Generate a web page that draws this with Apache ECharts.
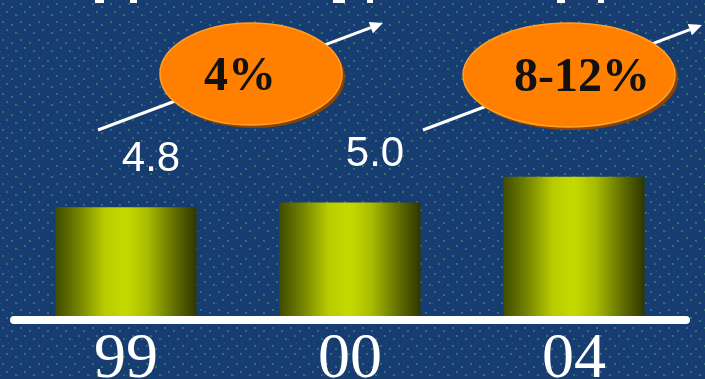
<!DOCTYPE html>
<html><head><meta charset="utf-8">
<script src="https://cdn.jsdelivr.net/npm/echarts@6/dist/echarts.min.js"></script>
<style>html,body{margin:0;padding:0;background:#163a70}#c{width:705px;height:379px}</style>
</head><body><div id="c"></div>
<script>
const categories = ['99', '00', '04'];
const values = [4.8, 5.0, 6.1];
const valueLabels = ['4.8', '5.0', ''];
const growthLabels = ['4%', '8-12%'];

// dotted background texture
const pat = document.createElement('canvas');
pat.width = 18; pat.height = 18;
const pc = pat.getContext('2d');
pc.fillStyle = '#173c71'; pc.fillRect(0, 0, 18, 18);
pc.fillStyle = '#2b7268';
[[2, 3], [11, 6], [6, 11], [15, 14]].forEach(p => pc.fillRect(p[0], p[1], 2, 2));
pc.fillStyle = '#3a4f86';
[[8, 1], [0, 15]].forEach(p => pc.fillRect(p[0], p[1], 1, 1));

function arrow(x1, y1, x2, y2) {
  const dx = x2 - x1, dy = y2 - y1, len = Math.hypot(dx, dy);
  const ux = dx / len, uy = dy / len, nx = -uy, ny = ux;
  const bx = x2 - 13 * ux, by = y2 - 13 * uy;
  return [
    { type: 'line', z: 5, shape: { x1, y1, x2: bx, y2: by }, style: { stroke: '#fff', lineWidth: 3 } },
    { type: 'polygon', z: 5, shape: { points: [[x2, y2], [bx + 6 * nx, by + 6 * ny], [bx - 6 * nx, by - 6 * ny]] }, style: { fill: '#fff' } }
  ];
}

function bubble(cx, cy, rx, ry, text, tx) {
  return [
    { type: 'ellipse', z: 10, shape: { cx: cx + 3, cy: cy + 3, rx, ry }, style: { fill: '#8f4300' } },
    { type: 'ellipse', z: 11, shape: { cx, cy, rx, ry }, style: { fill: '#ff8000', stroke: '#ffa126', lineWidth: 1.5 } },
    { type: 'text', z: 12, style: { text, x: tx, y: cy + 4, align: 'center', verticalAlign: 'middle', font: 'bold 48px "Liberation Serif", serif', fill: '#111' } }
  ];
}

const topMarks = [[95, 9], [130, 7], [333, 12], [367, 6], [557, 8], [598, 6]].map(m => ({
  type: 'rect', z: 5, shape: { x: m[0], y: 0, width: m[1], height: 3 }, style: { fill: '#fff' }
}));

const chart = echarts.init(document.getElementById('c'), null, { renderer: 'canvas' });
chart.setOption({
  animation: false,
  backgroundColor: { image: pat, repeat: 'repeat' },
  grid: { left: 14, right: 19, top: 85, bottom: 59, containLabel: false, outerBoundsMode: 'none' },
  xAxis: {
    type: 'category', data: categories, z: 5,
    axisLine: { lineStyle: { color: '#ffffff', width: 8 } },
    axisTick: { show: false },
    axisLabel: { color: '#ffffff', fontFamily: '"Liberation Serif", serif', fontSize: 64, margin: 8 }
  },
  yAxis: { type: 'value', min: 0, max: 10, show: false },
  series: [{
    type: 'bar',
    data: values,
    barWidth: 141,
    itemStyle: {
      color: {
        type: 'linear', x: 0, y: 0, x2: 1, y2: 0,
        colorStops: [
          { offset: 0, color: '#3f4c00' },
          { offset: 0.15, color: '#6e7f00' },
          { offset: 0.35, color: '#b8cc00' },
          { offset: 0.5, color: '#c6da00' },
          { offset: 0.65, color: '#a9bc00' },
          { offset: 0.85, color: '#5f6c00' },
          { offset: 1, color: '#2e3700' }
        ]
      }
    },
    label: {
      show: true, position: 'top', distance: 27, offset: [25, 0],
      color: '#ffffff', fontFamily: '"Liberation Sans", sans-serif', fontSize: 42,
      formatter: p => valueLabels[p.dataIndex]
    }
  }],
  graphic: [].concat(
    topMarks,
    arrow(98, 130, 383, 23),
    arrow(423, 130, 702, 25),
    bubble(251, 74, 91, 51, growthLabels[0], 240),
    bubble(569, 75, 106, 52, growthLabels[1], 582)
  )
});
</script></body></html>
